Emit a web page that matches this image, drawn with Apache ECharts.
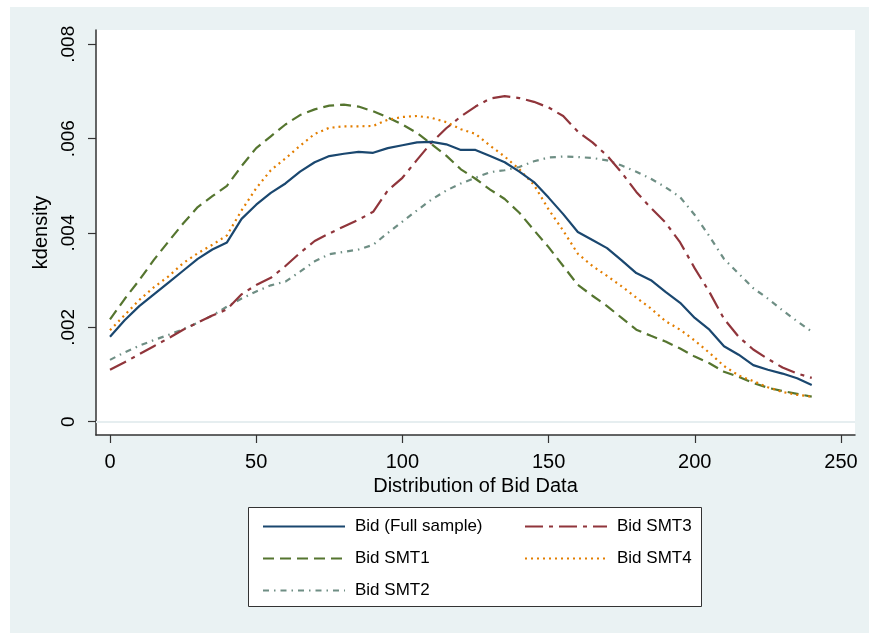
<!DOCTYPE html>
<html>
<head>
<meta charset="utf-8">
<script src="https://cdn.jsdelivr.net/npm/echarts@6/dist/echarts.min.js"></script>
<style>
html,body{margin:0;padding:0;background:#fff;}
#chart{width:869px;height:633px;}
</style>
</head>
<body>
<div id="chart"></div>
<script>
// Bid values (x)
var bidX = [0,5,10,15,20,25,30,35,40,45,50,55,60,65,70,75,80,85,90,95,100,105,110,115,120,125,130,135,140,145,150,155,160,165,170,175,180,185,190,195,200,205,210,215,220,225,230,235,240];
// kdensity values (x 0.001)
var bidFull = [1.80,2.15,2.45,2.70,2.95,3.20,3.45,3.65,3.80,4.30,4.60,4.85,5.05,5.30,5.50,5.63,5.68,5.72,5.70,5.80,5.86,5.92,5.93,5.88,5.76,5.76,5.63,5.50,5.30,5.08,4.75,4.40,4.02,3.85,3.68,3.42,3.15,3.00,2.75,2.52,2.20,1.95,1.60,1.42,1.20,1.10,1.02,0.92,0.78];
var bidSMT1 = [2.17,2.60,3.00,3.43,3.82,4.20,4.55,4.78,5.00,5.42,5.80,6.05,6.30,6.50,6.62,6.70,6.72,6.68,6.58,6.45,6.30,6.12,5.88,5.64,5.35,5.15,4.92,4.72,4.43,4.06,3.70,3.30,2.90,2.67,2.45,2.20,1.95,1.82,1.70,1.55,1.38,1.24,1.06,0.95,0.82,0.72,0.65,0.59,0.53];
var bidSMT2 = [1.31,1.47,1.61,1.73,1.84,1.96,2.10,2.25,2.44,2.61,2.76,2.89,2.97,3.18,3.40,3.55,3.60,3.65,3.75,4.00,4.24,4.48,4.71,4.90,5.05,5.17,5.29,5.33,5.40,5.52,5.60,5.62,5.61,5.59,5.54,5.43,5.30,5.15,4.97,4.76,4.38,3.93,3.45,3.14,2.83,2.61,2.36,2.13,1.91];
var bidSMT3 = [1.10,1.26,1.43,1.60,1.77,1.95,2.10,2.25,2.38,2.70,2.90,3.05,3.30,3.58,3.83,3.99,4.14,4.28,4.45,4.90,5.17,5.55,5.92,6.22,6.47,6.68,6.85,6.90,6.86,6.78,6.66,6.48,6.15,5.92,5.64,5.28,4.87,4.53,4.22,3.80,3.25,2.75,2.18,1.80,1.53,1.33,1.15,1.02,0.93];
var bidSMT4 = [1.94,2.26,2.58,2.85,3.08,3.36,3.57,3.75,3.95,4.48,4.95,5.33,5.58,5.85,6.10,6.23,6.26,6.26,6.27,6.40,6.46,6.48,6.44,6.35,6.20,6.10,5.85,5.62,5.35,5.02,4.50,4.05,3.56,3.30,3.09,2.87,2.63,2.40,2.13,1.95,1.72,1.46,1.18,0.98,0.86,0.73,0.63,0.57,0.53];

var xTicks = [0,50,100,150,200,250];
var yTicks = [0,0.002,0.004,0.006,0.008];
var yTickLabels = ['0','.002','.004','.006','.008'];
var seriesNames = ['Bid (Full sample)','Bid SMT1','Bid SMT2','Bid SMT3','Bid SMT4'];
var legendCol1 = ['Bid (Full sample)','Bid SMT1','Bid SMT2'];
var legendCol2 = ['Bid SMT3','Bid SMT4'];

function pairs(arr){ return bidX.map(function(x,i){ return [x, arr[i]/1000]; }); }

var FONT = 'Liberation Sans, Arial, sans-serif';
var chart = echarts.init(document.getElementById('chart'));

function lineSeries(name, data, color, type, z){
  return {
    name: name, type: 'line', data: pairs(data), symbol: 'circle', showSymbol: false, smooth: false,
    z: z,
    lineStyle: {color: color, width: 2.2, type: type},
    itemStyle: {color: color},
    emphasis: {disabled: true},
    animation: false
  };
}

var legendBase = {orient: 'vertical', itemWidth: 82, itemHeight: 14, itemGap: 15, top: 513,
  itemStyle: {color: 'rgba(0,0,0,0)', borderWidth: 0, borderColor: 'rgba(0,0,0,0)'},
  textStyle: {fontFamily: FONT, fontSize: 17, color: '#000', padding: [0,0,0,5]}, selectedMode: false, z: 5};

var option = {
  backgroundColor: '#eaf2f3',
  animation: false,
  graphic: [
    {type:'rect', shape:{x:0,y:0,width:869,height:7}, style:{fill:'#fff'}, silent:true},
    {type:'rect', shape:{x:0,y:0,width:10,height:633}, style:{fill:'#fff'}, silent:true},
    {type:'rect', z: 1, shape:{x:248.5,y:507.5,width:453,height:99}, style:{fill:'#fff', stroke:'#333', lineWidth:1}, silent:true}
  ],
  grid: {left: 96, right: 14, top: 30, bottom: 198, show: true, backgroundColor: '#fff', borderWidth: 0, containLabel: false},
  xAxis: {
    type: 'value', min: -4.79, max: 254.8,
    name: 'Distribution of Bid Data', nameLocation: 'middle', nameGap: 36,
    nameTextStyle: {fontFamily: FONT, fontSize: 20, color: '#000'},
    axisLine: {show: true, onZero: false, lineStyle: {color: '#333', width: 1.5}},
    axisTick: {show: true, length: 8, customValues: xTicks, lineStyle: {color: '#333', width: 1.2}},
    axisLabel: {customValues: xTicks, margin: 17, fontFamily: FONT, fontSize: 20, color: '#000'},
    splitLine: {show: false}
  },
  yAxis: {
    type: 'value', min: -0.000282, max: 0.008303,
    name: 'kdensity', nameLocation: 'middle', nameGap: 44,
    nameTextStyle: {fontFamily: FONT, fontSize: 20, color: '#000'},
    axisLine: {show: true, onZero: false, lineStyle: {color: '#333', width: 1.5}},
    axisTick: {show: true, length: 8, customValues: yTicks, lineStyle: {color: '#333', width: 1.2}},
    axisLabel: {customValues: yTicks, rotate: 90, margin: 18, fontFamily: FONT, fontSize: 19, color: '#000',
      formatter: function(v){ for (var i=0;i<yTicks.length;i++){ if (Math.abs(v-yTicks[i])<1e-9) return yTickLabels[i]; } return ''; }},
    splitLine: {show: false}
  },
  legend: [
    Object.assign({}, legendBase, {data: legendCol1, left: 257}),
    Object.assign({}, legendBase, {data: legendCol2, left: 519})
  ],
  series: [
    {
      name: 'grid', type: 'line', data: [], z: 1, silent: true,
      markLine: {silent: true, symbol: 'none', label: {show: false}, animation: false,
        lineStyle: {color: '#e6eef0', width: 2, type: 'solid'},
        data: yTicks.map(function(v){ return {yAxis: v}; })}
    },
    lineSeries(seriesNames[0], bidFull, '#1a476f', 'solid', 6),
    lineSeries(seriesNames[1], bidSMT1, '#55752f', [11,6], 3),
    lineSeries(seriesNames[2], bidSMT2, '#6e8e84', [6,5,1.5,5], 2),
    lineSeries(seriesNames[3], bidSMT3, '#90353b', [18,6,4,6], 4),
    lineSeries(seriesNames[4], bidSMT4, '#e37e00', [2,4], 5)
  ]
};
chart.setOption(option);
</script>
</body>
</html>
